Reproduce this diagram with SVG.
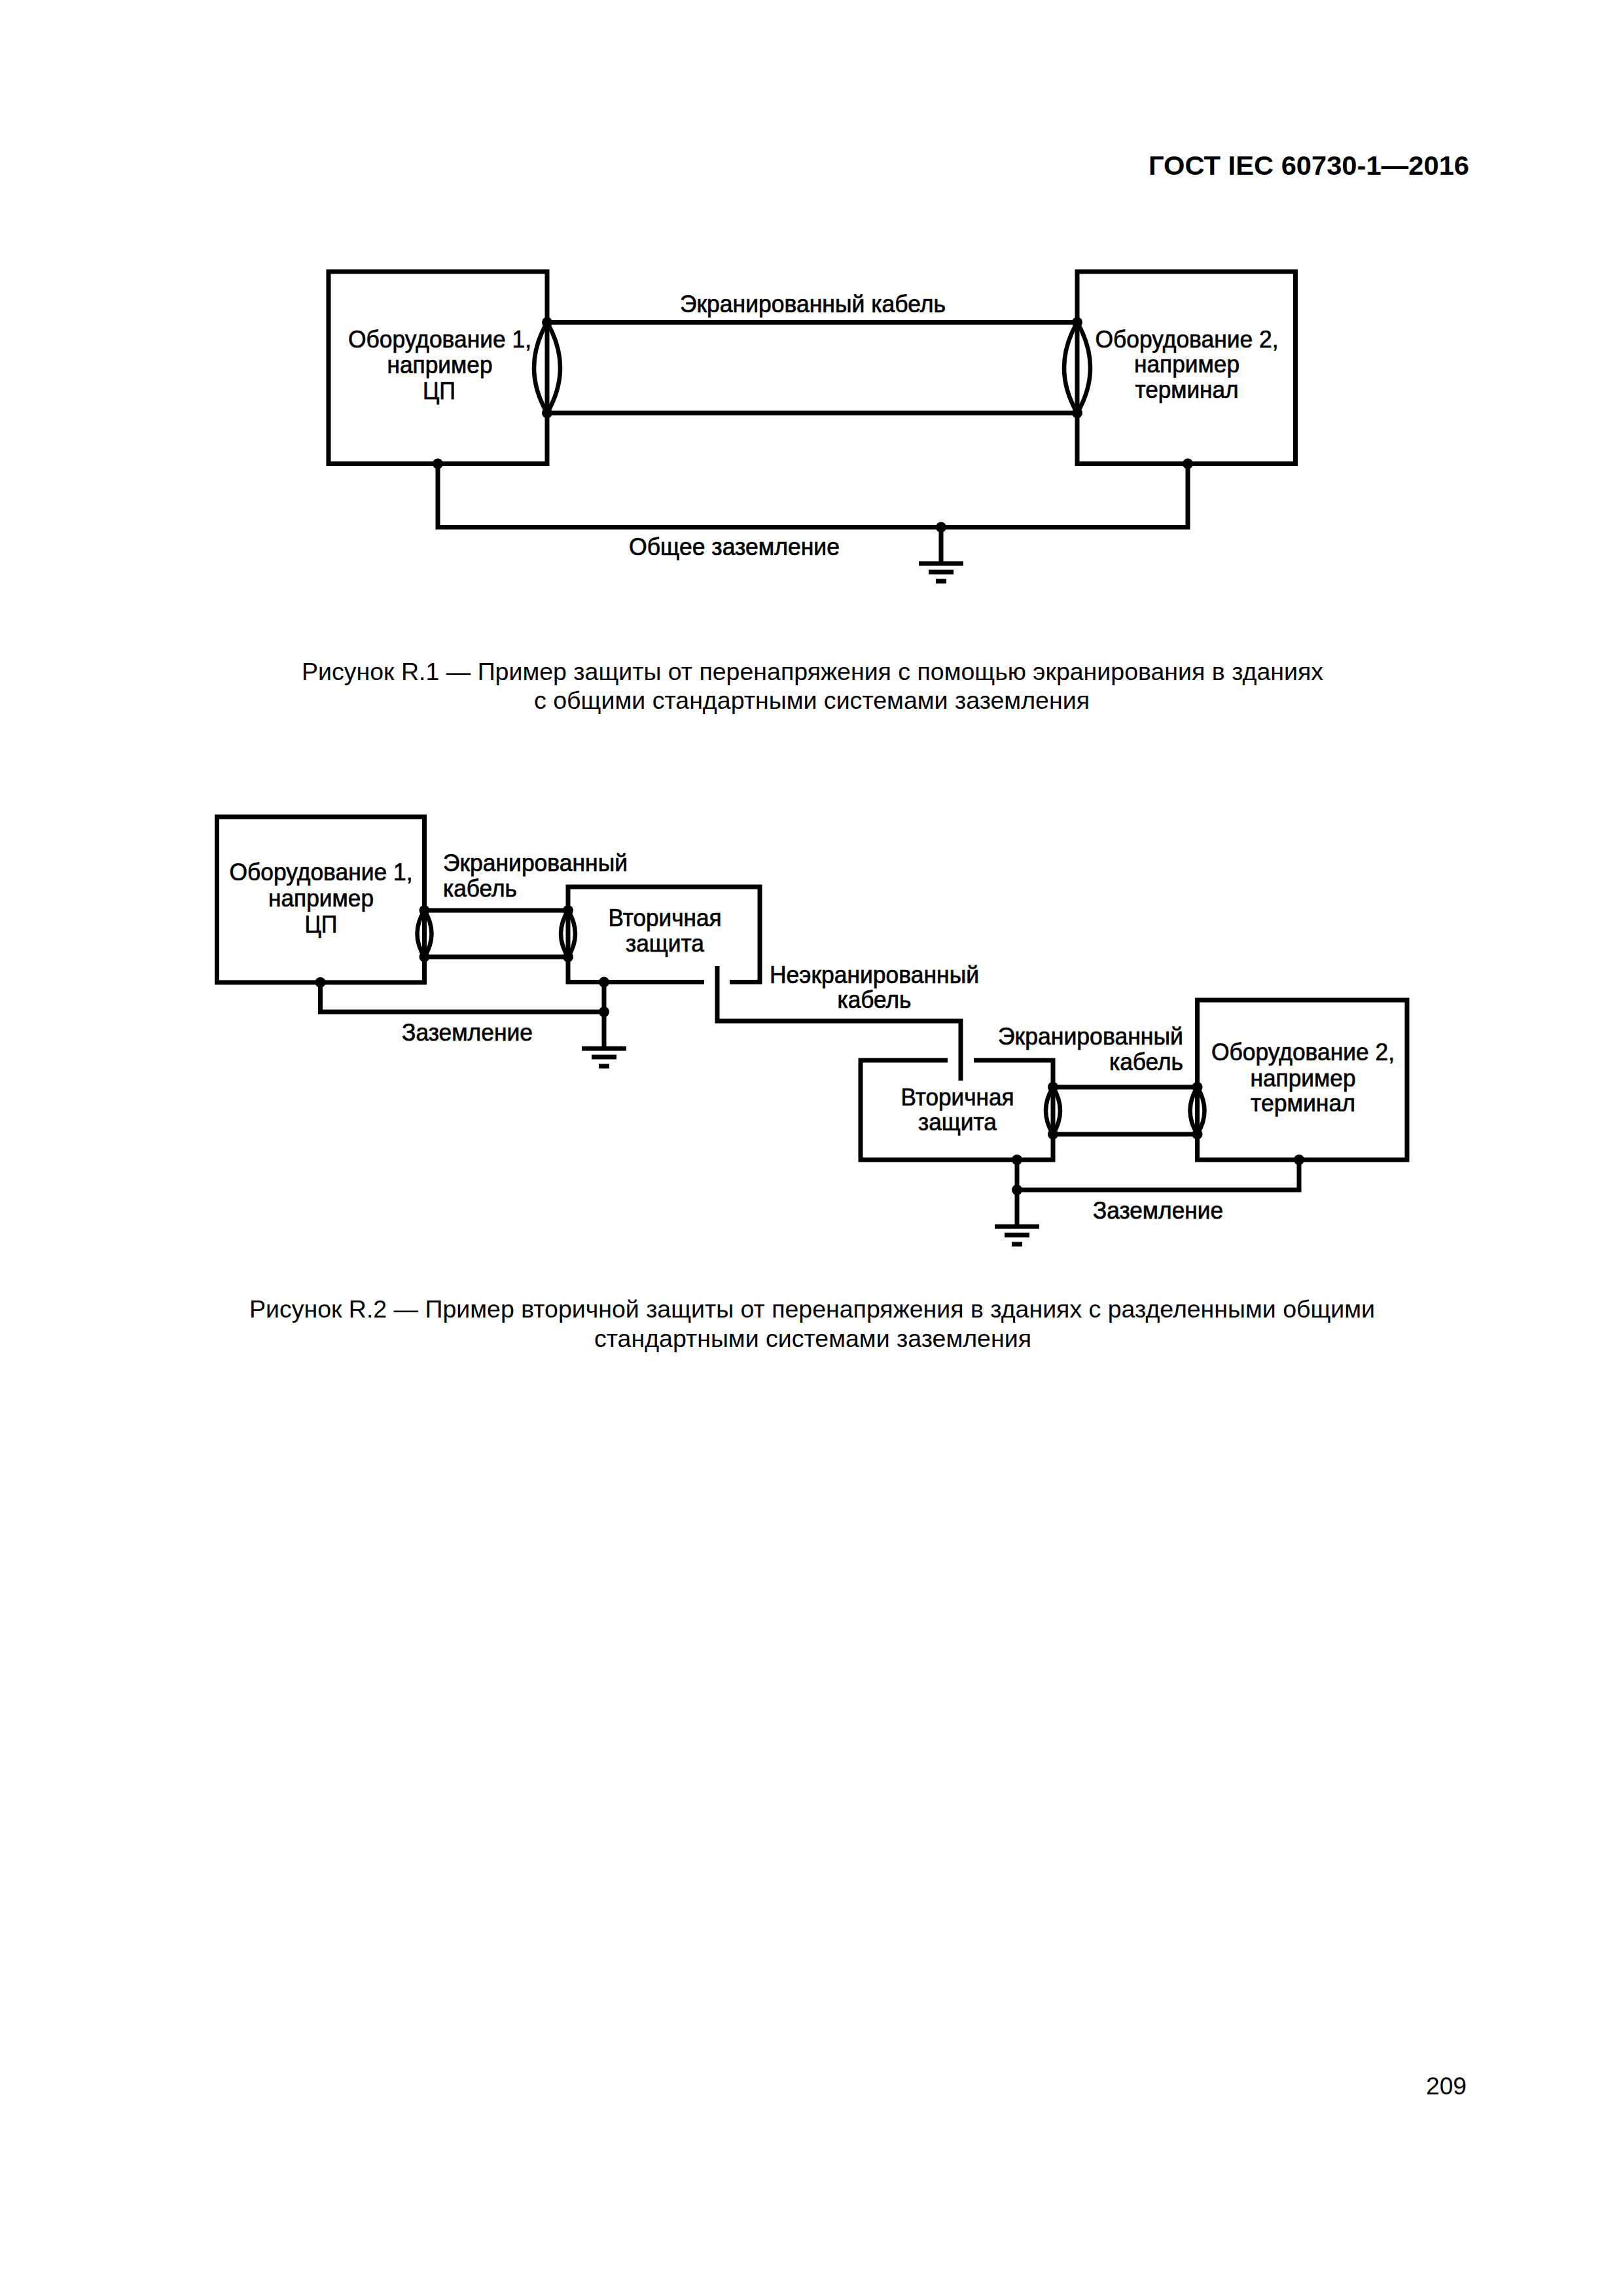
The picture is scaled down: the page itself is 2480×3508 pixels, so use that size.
<svg xmlns="http://www.w3.org/2000/svg" width="2480" height="3508" viewBox="0 0 2480 3508">
<style>
text{font-family:"Liberation Sans",Arial,sans-serif;fill:#000}
.l{font-size:37px;stroke:#000;stroke-width:.7px}
.c{font-size:36px}
.m{text-anchor:middle}
.h{font-size:40px;font-weight:bold}
.w{fill:none;stroke:#000;stroke-width:7;stroke-linecap:butt;stroke-linejoin:miter}
.s{fill:none;stroke:#000;stroke-width:6.5}
.g{fill:#000;stroke:none}
</style>
<defs>
<circle id="dot" r="8" class="g"/>
<g id="earth" class="g">
<rect x="-34" y="-3.5" width="68" height="7"/>
<rect x="-19" y="9.5" width="38" height="7"/>
<rect x="-8" y="23.5" width="16" height="7"/>
</g>
</defs>
<rect width="2480" height="3508" fill="#fff"/>
<text id="header" class="h" x="1755" y="267" textLength="490" lengthAdjust="spacingAndGlyphs">ГОСТ IEC 60730-1—2016</text>
<g id="fig1-equipment1"><rect class="w" x="502" y="415" width="334" height="293.5"/>
<text class="l m" x="672" y="531" textLength="280" lengthAdjust="spacingAndGlyphs">Оборудование 1,</text><text class="l m" x="672" y="570" textLength="161" lengthAdjust="spacingAndGlyphs">например</text><text class="l m" x="671" y="610" textLength="50" lengthAdjust="spacingAndGlyphs">ЦП</text></g>
<g id="fig1-equipment2"><rect class="w" x="1646" y="415" width="333.5" height="293.5"/>
<text class="l m" x="1813.5" y="531" textLength="280" lengthAdjust="spacingAndGlyphs">Оборудование 2,</text><text class="l m" x="1813.5" y="569" textLength="161" lengthAdjust="spacingAndGlyphs">например</text><text class="l m" x="1813.5" y="608" textLength="158" lengthAdjust="spacingAndGlyphs">терминал</text></g>
<g id="fig1-connectors">
<path class="w" d="M836 492.5H1646M836 631H1646M669 708.5V805.5H1815V708.5M1438 805.5V861"/>
<path class="s" d="M836 492.5Q796 562 836 631Q876 562 836 492.5M1646 492.5Q1606 562 1646 631Q1686 562 1646 492.5"/>
<use href="#dot" x="836" y="492.5"/><use href="#dot" x="836" y="631"/><use href="#dot" x="1646" y="492.5"/><use href="#dot" x="1646" y="631"/>
<use href="#dot" x="669" y="708.5"/><use href="#dot" x="1815" y="708.5"/><use href="#dot" x="1438" y="805.5"/>
<use href="#earth" x="1438" y="861"/>
</g>
<text id="fig1-cable-label" class="l" x="1039" y="477" textLength="406" lengthAdjust="spacingAndGlyphs">Экранированный кабель</text>
<text id="fig1-earth-label" class="l" x="961" y="848" textLength="322" lengthAdjust="spacingAndGlyphs">Общее заземление</text>
<g id="fig1-caption"><text class="c" x="461" y="1039" textLength="1561" lengthAdjust="spacingAndGlyphs">Рисунок R.1 — Пример защиты от перенапряжения с помощью экранирования в зданиях</text>
<text class="c" x="816" y="1083" textLength="849" lengthAdjust="spacingAndGlyphs">с общими стандартными системами заземления</text></g>
<g id="fig2-equipment1"><rect class="w" x="331.5" y="1248" width="317" height="253"/>
<text class="l m" x="490.5" y="1345" textLength="280" lengthAdjust="spacingAndGlyphs">Оборудование 1,</text><text class="l m" x="490.5" y="1385" textLength="161" lengthAdjust="spacingAndGlyphs">например</text><text class="l m" x="490.5" y="1425" textLength="50" lengthAdjust="spacingAndGlyphs">ЦП</text></g>
<g id="fig2-protection1"><path class="w" d="M1076 1500.5H868V1355H1161V1500.5H1115"/>
<text class="l m" x="1016" y="1415" textLength="173" lengthAdjust="spacingAndGlyphs">Вторичная</text><text class="l m" x="1016" y="1454" textLength="120" lengthAdjust="spacingAndGlyphs">защита</text></g>
<g id="fig2-protection2"><path class="w" d="M1448 1620H1315V1772H1609V1620H1488"/>
<text class="l m" x="1463" y="1689" textLength="173" lengthAdjust="spacingAndGlyphs">Вторичная</text><text class="l m" x="1463" y="1727" textLength="120" lengthAdjust="spacingAndGlyphs">защита</text></g>
<g id="fig2-equipment2"><rect class="w" x="1829.5" y="1528" width="320.5" height="244"/>
<text class="l m" x="1991" y="1620" textLength="280" lengthAdjust="spacingAndGlyphs">Оборудование 2,</text><text class="l m" x="1991" y="1660" textLength="161" lengthAdjust="spacingAndGlyphs">например</text><text class="l m" x="1991" y="1698" textLength="160" lengthAdjust="spacingAndGlyphs">терминал</text></g>
<g id="fig2-connectors">
<path class="w" d="M648.5 1391H868M648.5 1462H868M1609 1661H1829.5M1609 1733H1829.5"/>
<path class="w" d="M489.5 1501V1546H923M923 1500.5V1602M1554 1772V1874M1554 1818H1985V1772"/>
<path class="w" d="M1096 1476V1560H1468V1651"/>
<path class="s" d="M648.5 1391Q626.500 1427 648.5 1462Q670.500 1427 648.5 1391M868 1391Q846 1427 868 1462Q890 1427 868 1391M1609 1661Q1587 1697 1609 1733Q1631 1697 1609 1661M1829.500 1661Q1807.500 1697 1829.500 1733Q1851.500 1697 1829.500 1661"/>
<use href="#dot" x="648.5" y="1391"/><use href="#dot" x="648.5" y="1462"/><use href="#dot" x="868" y="1391"/><use href="#dot" x="868" y="1462"/>
<use href="#dot" x="1609" y="1661"/><use href="#dot" x="1609" y="1733"/><use href="#dot" x="1829.5" y="1661"/><use href="#dot" x="1829.5" y="1733"/>
<use href="#dot" x="489.5" y="1501"/><use href="#dot" x="923" y="1500.5"/><use href="#dot" x="923" y="1546"/>
<use href="#dot" x="1554" y="1772"/><use href="#dot" x="1554" y="1818"/><use href="#dot" x="1985" y="1772"/>
<use href="#earth" x="923" y="1602"/><use href="#earth" x="1554" y="1874"/>
</g>
<g id="fig2-labels">
<text class="l" x="677" y="1331" textLength="282" lengthAdjust="spacingAndGlyphs">Экранированный</text><text class="l" x="677" y="1370" textLength="113" lengthAdjust="spacingAndGlyphs">кабель</text>
<text class="l" x="614" y="1590" textLength="200" lengthAdjust="spacingAndGlyphs">Заземление</text>
<text class="l" x="1176" y="1502" textLength="320" lengthAdjust="spacingAndGlyphs">Неэкранированный</text><text class="l m" x="1336" y="1540" textLength="113" lengthAdjust="spacingAndGlyphs">кабель</text>
<text class="l" x="1525" y="1596" textLength="283" lengthAdjust="spacingAndGlyphs">Экранированный</text><text class="l" x="1695" y="1635" textLength="113" lengthAdjust="spacingAndGlyphs">кабель</text>
<text class="l" x="1670" y="1862" textLength="199" lengthAdjust="spacingAndGlyphs">Заземление</text>
</g>
<g id="fig2-caption"><text class="c" x="381" y="2013" textLength="1720" lengthAdjust="spacingAndGlyphs">Рисунок R.2 — Пример вторичной защиты от перенапряжения в зданиях с разделенными общими</text>
<text class="c" x="908" y="2058" textLength="668" lengthAdjust="spacingAndGlyphs">стандартными системами заземления</text></g>
<text id="page-number" class="c" x="2179" y="3200" textLength="62" lengthAdjust="spacingAndGlyphs">209</text>
</svg>
